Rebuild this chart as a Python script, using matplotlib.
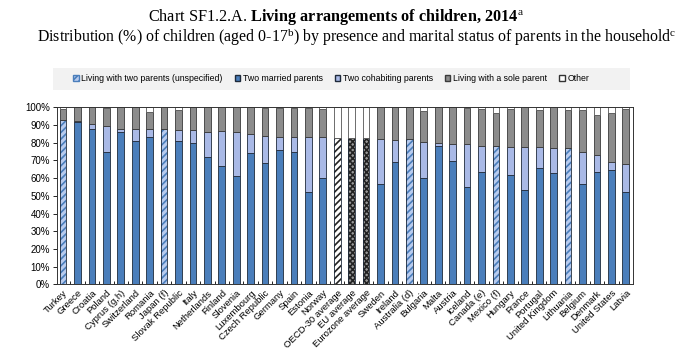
import numpy as np
import matplotlib
matplotlib.use("Agg")
from matplotlib import pyplot as plt
from matplotlib.patches import Patch, Rectangle

countries = ["Turkey", "Greece", "Croatia", "Poland", "Cyprus (g,h)", "Switzerland", "Romania",
             "Japan (f)", "Slovak Republic", "Italy", "Netherlands", "Finland", "Slovenia",
             "Luxembourg", "Czech Republic", "Germany", "Spain", "Estonia", "Norway",
             "OECD-30 average", "EU average", "Eurozone average", "Sweden", "Ireland",
             "Australia (d)", "Bulgaria", "Malta", "Austria", "Iceland", "Canada (e)",
             "Mexico (f)", "Hungary", "France", "Portugal", "United Kingdom", "Lithuania",
             "Belgium", "Denmark", "United States", "Latvia"]

# living with two parents (unspecified marital status)
unspecified = [93, 0, 0, 0, 0, 0, 0, 87.5, 0, 0, 0, 0, 0, 0, 0, 0, 0, 0, 0,
               0, 0, 0, 0, 0, 82, 0, 0, 0, 0, 0, 78.3, 0, 0, 0, 0, 76.8, 0, 0, 0, 0]
married = [0, 91.5, 88, 74.5, 86, 81, 83, 0, 81, 80, 72, 67, 61, 74, 68.5, 75.7, 75, 52, 60,
           0, 0, 0, 56.5, 69, 0, 60, 78.3, 69.7, 55, 63.3, 0, 61.8, 53.3, 65.5, 62.7, 0,
           56.8, 63.3, 64.4, 52.3]
cohabiting = [0, 0.5, 2.4, 15, 2, 7, 5, 0, 6, 7, 14, 19.5, 25, 10.7, 15.5, 7.7, 8, 31, 23,
              0, 0, 0, 25.4, 12.7, 0, 20.6, 1.7, 9.7, 24, 15, 0, 15.9, 24.4, 12.2, 14.1, 0,
              17.8, 9.7, 4.5, 15.5]
sole = [6, 8, 9.6, 10, 12, 12, 9.5, 12.5, 11.5, 13, 14, 13.5, 14, 15.3, 15.5, 16.3, 16.5, 16.7, 16.3,
        0, 0, 0, 18.1, 18.3, 18, 17.3, 20, 20.6, 20.5, 20.7, 18.5, 21.3, 22.3, 20.8, 23.2, 21.5,
        23.9, 22.6, 27.7, 31.1]
other = [1, 0, 0, 0.5, 0, 0, 2.5, 0, 1.5, 0, 0, 0, 0, 0, 0.5, 0.3, 0.5, 0.3, 0.7,
         17.6, 17.6, 17.6, 0, 0, 0, 2.1, 0, 0, 0.5, 1, 3.2, 1, 0, 1.5, 0, 1.7,
         1.5, 4.4, 3.4, 1.1]
# averages: two parents total
avg_two = [0] * 19 + [82.4, 82.4, 82.4] + [0] * 18

plt.rcParams['font.family'] = ['Liberation Sans', 'DejaVu Sans']
plt.rcParams['mathtext.fontset'] = 'custom'
plt.rcParams['mathtext.rm'] = 'Liberation Serif'
plt.rcParams['mathtext.it'] = 'Liberation Serif'
plt.rcParams['mathtext.bf'] = 'Liberation Serif:bold'
plt.rcParams['hatch.linewidth'] = 1.2

c_married = '#4a7ebb'
c_cohab = '#a9b9e6'
c_sole = '#8c8c8c'
edge = '#1e2a3a'

fig = plt.figure(figsize=(6.76, 3.52), dpi=100)
ax = fig.add_axes([0.0843, 0.1923, 0.8521, 0.5029])

x = np.arange(len(countries))
w = 0.46
lw = 0.6

b = np.zeros(len(countries))
# unspecified: hatched light blue with blue stripes
ax.bar(x, unspecified, w, bottom=b, color='#b8cbee', edgecolor=c_married, hatch='/////', linewidth=0)
ax.bar(x, unspecified, w, bottom=b, color='none', edgecolor=edge, linewidth=lw)
b += np.array(unspecified)

# averages
avg_bars = ax.bar(x, avg_two, w, bottom=b, color='white', edgecolor='#222222', linewidth=0)
for i, p in enumerate(avg_bars):
    if countries[i] == "OECD-30 average":
        p.set_hatch('/////')
    elif avg_two[i] > 0:
        p.set_facecolor('#9a9a9a')
        p.set_hatch('xxxxxx')
ax.bar(x, avg_two, w, bottom=b, color='none', edgecolor=edge, linewidth=lw)
b += np.array(avg_two)

ax.bar(x, married, w, bottom=b, color=c_married, edgecolor=edge, linewidth=lw)
b += np.array(married)
ax.bar(x, cohabiting, w, bottom=b, color=c_cohab, edgecolor=edge, linewidth=lw)
b += np.array(cohabiting)
ax.bar(x, sole, w, bottom=b, color=c_sole, edgecolor='#3a3a3a', linewidth=lw)
b += np.array(sole)
ax.bar(x, other, w, bottom=b, color='white', edgecolor='#555555', linewidth=lw)

ax.set_xlim(-0.42, len(countries) - 0.5)
ax.set_ylim(0, 100)
ax.set_yticks(np.arange(0, 101, 10))
ax.set_yticklabels([f"{v}%" for v in range(0, 101, 10)], fontsize=7)
ax.set_xticks(x)
ax.set_xticklabels(countries, rotation=45, ha='right', rotation_mode='anchor', fontsize=6.8)
ax.tick_params(axis='x', length=0, pad=3)
ax.tick_params(axis='y', length=3, width=0.6, pad=2)
ax.set_xticks(x[:-1] + 0.5, minor=True)
ax.tick_params(axis='x', which='minor', direction='in', length=2.5, width=0.6)
for s in ax.spines.values():
    s.set_linewidth(0.7)
    s.set_color('#333333')

# legend on a light grey band
fig.patches.append(Rectangle((53 / 676, 1 - 90 / 352), 577 / 676, 22 / 352, transform=fig.transFigure,
                             facecolor='#f2f2f2', edgecolor='none', zorder=0))
handles = [
    Patch(facecolor='#b8cbee', edgecolor=c_married, hatch='/////', label='Living with two parents (unspecified)'),
    Patch(facecolor=c_married, edgecolor=edge, label='Two married parents'),
    Patch(facecolor=c_cohab, edgecolor=edge, label='Two cohabiting parents'),
    Patch(facecolor=c_sole, edgecolor='#3a3a3a', label='Living with a sole parent'),
    Patch(facecolor='white', edgecolor='#333333', label='Other'),
]
fig.legend(handles=handles, loc='center', ncol=5, bbox_to_anchor=(0.49, 0.776),
           fontsize=6.3, handlelength=0.6, handleheight=0.6, handletextpad=0.3,
           columnspacing=1.4, frameon=False)

fig.text(0.497, 0.952, r"Chart SF1.2.A. $\mathbf{Living\ arrangements\ of\ children{,}\ 2014}^{\mathrm{a}}$",
         ha='center', va='center', fontsize=11.7, family='Liberation Serif')
fig.text(0.528, 0.895, r"Distribution (%) of children (aged 0-17$^{\mathrm{b}}$) by presence and marital status of parents in the household$^{\mathrm{c}}$",
         ha='center', va='center', fontsize=11.4, family='Liberation Serif')

fig.savefig('out.png', dpi=100)
